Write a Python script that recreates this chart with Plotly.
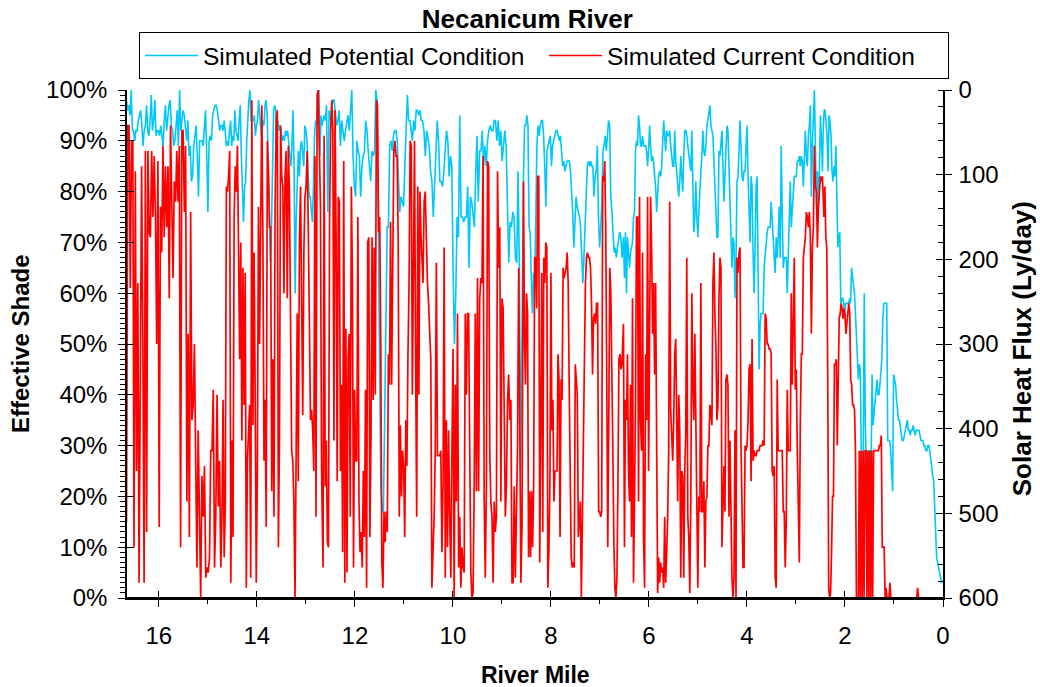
import numpy as np
import plotly.graph_objects as go

chart_title = "Necanicum River"
potential_name = "Simulated Potential Condition"
current_name = "Simulated Current Condition"
x_title = "River Mile"
left_title = "Effective Shade"
right_title = "Solar Heat Flux (Ly/day)"

# River-mile span (start, end) of each sampled stretch, one list per series
potential_bounds = [(16.66, 14.71), (14.69, 12.67), (12.63, 10.62), (10.59, 8.59),
                    (8.56, 6.55), (6.52, 4.51), (4.47, 2.46), (2.445, 0.01)]
current_bounds = [(16.66, 14.71), (14.69, 12.68), (12.65, 10.65), (10.61, 8.59),
                  (8.56, 6.55), (6.52, 4.51), (4.47, 2.46), (2.43, 0.01)]

# Effective shade (%) - Simulated Potential Condition
potential_1 = [98,96,97,95,100,92,92,90,92,92,94,95,96,93,89,92,93,97,92,91,94,99,92,94,98,91,92,92,91,93,
               91,89,94,97,92,95,97,98,93,92,89,90,94,96,89,100,92,94,96,95,93,90,94,87,89,82,83,89,91,93,
               87,79,90,90,90,89,92,96,87,76,90,91,90,95,96,97,97,96,94,92,93,93]
potential_2 = [92,94,92,89,90,89,92,94,89,91,90,96,92,91,90,94,97,87,79,74,81,82,90,95,98,100,94,94,94,95,
               91,93,94,98,95,93,90,94,93,97,98,95,85,81,66,73,88,96,97,96,89,94,92,93,92,90,91,90,92,91,
               92,90,88,85,89,96,85,60,75,85,88,83,89,90,88,85,93,92,90,85,79,79,77,74,81,91,94,93,99,100,
               87,95,93]
potential_3 = [95,94,97,76,96,94,96,98,98,96,93,94,96,89,94,92,90,92,94,95,92,96,100,87,81,79,90,88,87,79,
               85,87,88,94,92,88,85,82,88,87,88,100,98,76,48,22,17,17,35,55,73,73,89,90,88,91,92,92,90,82,
               76,79,78,77,85,94,99,94,94,92,90,94,92,96,96,95,96,94,94]
potential_4 = [92,87,92,90,89,84,82,75,82,89,94,90,82,82,81,84,88,92,90,83,87,85,64,50,60,75,71,95,75,75,
               74,75,75,81,65,79,78,75,73,83,91,78,88,88,92,85,89,85,90,92,93,92,92,94,94,90,94,89,92,86,
               89,92,89,76,66,74,73,76,75,67,66,84,65,25,55]
potential_5 = [83,93,93,95,93,73,72,63,56,64,63,75,89,93,91,93,94,94,91,85,77,88,89,90,91,85,89,90,91,92,
               92,91,90,91,87,85,86,84,85,86,86,86,84,80,76,69,76,79,77,76,75,73,67,62,67,76,79,85,86,85,
               86,85,85,79,83,84,89,75,69,73,78,88,89,91,88,91,94,93,79,76,71,68,69,67,69,71,72,71,67]
potential_6 = [71,63,72,60,71,68,65,68,69,70,75,76,88,90,89,95,93,89,89,91,89,89,89,88,85,88,93,89,86,87,
               86,83,81,76,81,83,84,83,85,91,94,91,88,92,91,91,92,89,86,85,85,92,86,84,81,79,82,87,83,80,
               87,92,92,91,89,87,85,84,92,83,72,75,82,75,71,76,81,84,87,92,88,87,89,93,94,96,97,93,92,91,
               86,80,73,71,71,88,87,89,92]
potential_7 = [78,85,88,93,92,85,77,71,65,71,70,59,66,82,83,88,94,89,83,82,84,84,88,93,83,74,70,83,81,68,
               60,69,81,83,65,45,54,56,56,56,65,68,69,72,73,73,73,78,73,71,67,64,71,67,71,77,67,89,76,65,
               67,67,67,60,67,75,82,73,76,81,83,83,83,86,86,87,85,87,86,81,89,92,87,85,91,93,97,79,89,96,
               100,89,77,84,77,84,95,90,84]
potential_8 = [92,96,96,93,91,84,95,94,91,84,82,85,83,89,81,69,71,72,58,59,59,58,56,58,58,58,58,59,58,65,
               63,62,60,56,52,46,43,46,45,27,12,29,60,35,27,12,29,29,29,26,44,34,36,38,40,43,40,40,42,45,
               47,55,58,58,58,58,31,31,31,29,25,21,44,43,42,39,37,35,35,33,32,31,31,32,33,34,35,33,33,32,
               33,33,34,33,32,33,33,33,33,32,31,31,31,30,30,29,29,30,30,29,27,25,24,23,17,14,8,7,6,5,
               4,3,3]

# Effective shade (%) - Simulated Current Condition
current_1 = [15,93,93,61,90,90,10,84,25,62,3,60,85,50,3,88,13,88,72,71,88,75,87,76,50,86,14,77,68,89,
             71,85,73,85,59,93,79,63,82,78,88,78,89,10,92,92,76,89,19,52,12,76,35,38,50,19,6,33,20,0,
             24,16,26,4,6,5,8,29,29,41,6,16,40,18,27,6,18]
current_2 = [39,8,18,81,80,83,88,3,31,12,75,85,80,89,73,47,70,31,65,38,64,2,27,33,38,4,98,34,68,41,
             3,25,77,50,85,97,71,27,39,14,90,84,73,73,21,47,16,77,94,96,10,32,93,83,81,60,83,88,59,89,
             79,59,29,27,19,0,22,56,23,71,81,62,36,68,79,81,88,73,50,35,37,33,25,87,16,99,100,89,77,25]
current_3 = [6,91,22,31,11,10,75,92,98,92,31,96,71,23,79,78,25,42,9,86,3,53,5,47,52,16,81,63,6,41,
             27,27,75,19,9,13,6,25,12,41,2,70,71,12,31,71,39,69,40,98,97,72,75,50,7,2,17,11,17,13,
             48,42,74,42,76,88,90,87,87,71,16,34,20,29,26,12,35,26,48,62,90,89,40,68,90,47,16,81,40,80,
             71]
current_4 = [62,78,80,68,62,58,50,47,2,9,16,29,66,28,28,28,29,9,22,69,4,35,10,33,16,4,29,49,0,42,
             19,56,6,16,2,10,6,5,56,40,56,56,29,5,0,1,22,56,21,63,21,59,63,62,87,19,4,22,86,85,
             29,19,16,3,19,13,16,84,65,73,19,59,57,32,16,22,39,44,35,39,3,3,22,4,23,30,65,27,3,14]
current_5 = [82,51,42,60,56,8,21,8,21,10,22,67,67,57,83,83,7,35,64,13,67,62,70,69,2,9,22,64,33,39,
             19,25,25,25,48,43,12,43,39,65,63,64,65,68,62,42,16,8,6,7,6,46,43,40,12,15,19,0,17,29,
             47,62,67,68,67,67,65,58,44,55,56,54,58,58,17,17,16,17,83,82,86,73,43,10,35,65,60,48,29,11,
             2,0,4,22,47,48,45,46]
current_6 = [54,10,39,35,48,25,19,42,12,59,3,19,39,75,75,19,79,35,29,68,12,2,48,35,79,25,62,79,69,52,
             62,44,62,33,1,8,3,7,5,6,2,16,3,9,16,29,78,37,33,27,35,48,51,35,19,40,33,4,25,24,
             4,25,33,67,16,12,1,19,60,42,35,52,32,22,2,20,17,62,17,17,23,6,19,20,30,30,38,37,34,62,
             68,56,49,35,38,59,67,65,10]
current_7 = [26,17,43,44,42,16,31,16,4,0,4,33,0,67,64,68,69,30,12,6,6,30,29,30,35,45,46,23,51,27,
             29,28,28,29,29,29,30,30,30,31,30,56,55,50,50,49,49,48,25,24,26,4,2,43,29,29,29,29,29,17,
             17,6,15,41,29,29,29,60,42,54,67,41,45,29,19,7,35,48,48,67,69,71,76,75,73,76,71,52,69,73,
             89,81,80,69,77,81,83,82,83]
current_8 = [75,81,71,69,44,2,0,1,9,20,20,46,46,47,30,47,55,56,58,57,55,57,56,52,55,56,58,56,43,42,
             38,38,37,29,0,0,0,29,0,29,0,29,0,29,29,0,29,0,29,0,29,0,29,29,29,29,29,29,30,30,
             32,10,10,10,0,2,0,0,0,3,0,
             0,0,0,0,0,0,0,0,0,0,0,0,0,0,0,0,0,0,0,0,0,0,0,0,0,0,0,
             2,
             0,0,0,0,0,0,0,0,0,0,0,0,0,0,0,0,0,0,0,0,0,0,0,0,0,0]

potential_segments = [potential_1, potential_2, potential_3, potential_4,
                      potential_5, potential_6, potential_7, potential_8]
current_segments = [current_1, current_2, current_3, current_4,
                    current_5, current_6, current_7, current_8]


def assemble(bounds, segments):
    miles, values = [], []
    for (start, end), vals in zip(bounds, segments):
        miles.extend(np.linspace(start, end, len(vals)).tolist())
        values.extend(vals)
    return miles, values


pot_x, pot_y = assemble(potential_bounds, potential_segments)
cur_x, cur_y = assemble(current_bounds, current_segments)

FONT = "Liberation Sans, Arial, Helvetica, sans-serif"
CYAN = "#00C8F8"
RED = "#FF0000"

fig = go.Figure()
fig.add_trace(go.Scatter(x=pot_x, y=pot_y, mode="lines", name=potential_name,
                         line=dict(color=CYAN, width=1.6)))
fig.add_trace(go.Scatter(x=cur_x, y=cur_y, mode="lines", name=current_name,
                         line=dict(color=RED, width=1.7)))
# empty carriers so that the secondary / tick-overlay axes get drawn
for xa, ya in [("x", "y2"), ("x", "y3"), ("x", "y4"), ("x2", "y")]:
    fig.add_trace(go.Scatter(x=[None], y=[None], xaxis=xa, yaxis=ya, mode="lines",
                             showlegend=False, hoverinfo="skip"))

x_range = [16.65, 0]
AX = dict(showgrid=False, zeroline=False, tickcolor="black", tickwidth=1)

fig.update_layout(
    width=1040, height=687,
    margin=dict(l=127, r=97, t=90, b=89, autoexpand=False),
    paper_bgcolor="white", plot_bgcolor="white",
    font=dict(family=FONT, size=24, color="black"),
    showlegend=True,
    title=dict(text="<b>" + chart_title + "</b>", x=0.507, xanchor="center",
               y=0.973, yanchor="middle", font=dict(size=26, family=FONT, color="black")),
    legend=dict(orientation="h", x=0.0147, xanchor="left",
                y=1.114, yanchor="top",
                bordercolor="black", borderwidth=1, bgcolor="white",
                font=dict(size=24.5, family=FONT, color="black"),
                entrywidth=336, entrywidthmode="pixels", itemwidth=53,
                traceorder="normal"),
    xaxis=dict(range=x_range, tickmode="linear", tick0=0, dtick=2, ticks="outside", ticklen=7,
               showline=True, linecolor="black", linewidth=1.5, tickfont=dict(size=24),
               minor=dict(tickmode="linear", tick0=0, dtick=1, ticks="outside", ticklen=4,
                          tickcolor="black"),
               ticklabelstandoff=8, **AX),
    xaxis2=dict(range=x_range, overlaying="x", side="bottom", tickmode="linear", tick0=0, dtick=2,
                ticks="inside", ticklen=7, showticklabels=False, showline=False, **AX),
    yaxis=dict(range=[0, 100], tickmode="linear", tick0=0, dtick=10, ticksuffix="%",
               ticks="outside", ticklen=7, showline=True, linecolor="black", linewidth=1.5,
               tickfont=dict(size=24),
               minor=dict(tickmode="linear", tick0=0, dtick=1, ticks="outside", ticklen=5,
                          tickcolor="black"),
               ticklabelstandoff=6, **AX),
    yaxis2=dict(range=[600, 0], overlaying="y", side="right", tickmode="linear", tick0=0,
                dtick=100, ticks="outside", ticklen=7, showline=True, linecolor="black",
                linewidth=1.5, tickfont=dict(size=24),
                minor=dict(tickmode="linear", tick0=0, dtick=20, ticks="inside", ticklen=5,
                           tickcolor="black"),
                ticklabelstandoff=2, **AX),
    yaxis3=dict(range=[0, 100], overlaying="y", side="left", tickmode="linear", tick0=0, dtick=10,
                ticks="inside", ticklen=7, showticklabels=False, showline=False, **AX),
    yaxis4=dict(range=[600, 0], overlaying="y", side="right", tickmode="linear", tick0=0,
                dtick=100, ticks="inside", ticklen=7, showticklabels=False, showline=False, **AX),
    shapes=[dict(type="line", xref="paper", yref="y", x0=0, x1=1, y0=0, y1=0,
                 line=dict(color="black", width=2), layer="above")],
    annotations=[
        dict(text="<b>" + x_title + "</b>", xref="paper", yref="paper",
             x=0.5, y=-0.152, xanchor="center", yanchor="middle", showarrow=False,
             font=dict(size=23, family=FONT, color="black")),
        dict(text="<b>" + left_title + "</b>", xref="paper", yref="paper",
             x=-0.131, y=0.5, xanchor="center", yanchor="middle", textangle=-90,
             showarrow=False, font=dict(size=24, family=FONT, color="black")),
        dict(text="<b>" + right_title + "</b>", xref="paper", yref="paper",
             x=1.097, y=0.49, xanchor="center", yanchor="middle", textangle=-90,
             showarrow=False, font=dict(size=26, family=FONT, color="black")),
    ],
)

fig.write_html("out.html")
